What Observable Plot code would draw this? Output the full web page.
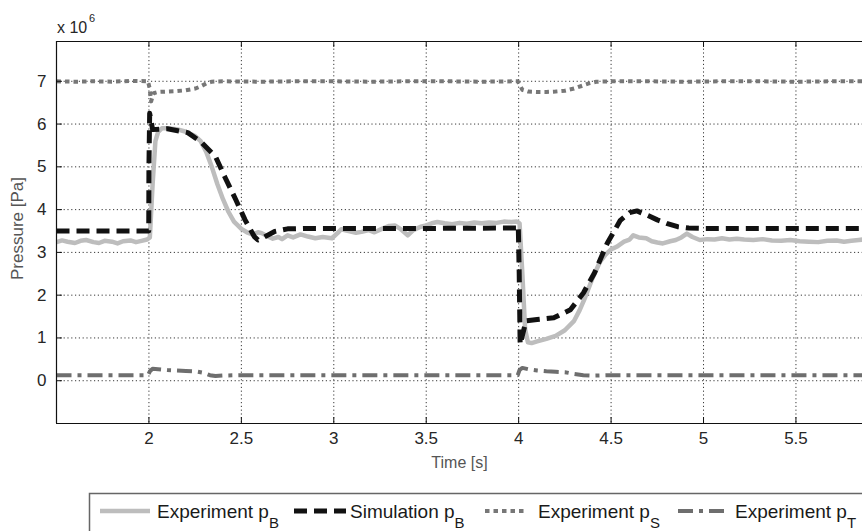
<!DOCTYPE html>
<html><head><meta charset="utf-8">
<script src="https://cdn.jsdelivr.net/npm/d3@7"></script>
<script src="https://cdn.jsdelivr.net/npm/@observablehq/plot@0.6"></script>
<style>
html,body{margin:0;padding:0;background:#fff;overflow:hidden;}
#wrap{position:relative;width:862px;height:531px;font-family:"Liberation Sans",Arial,sans-serif;}
#chart{position:absolute;left:0;top:0;}
#over{position:absolute;left:0;top:0;pointer-events:none;}
</style></head>
<body><div id="wrap"><div id="chart"></div></div>
<script>
// ---- data ----
const xTicks = [2, 2.5, 3, 3.5, 4, 4.5, 5, 5.5];
const yTicks = [0, 1, 2, 3, 4, 5, 6, 7];
const xDomain = [1.5, 5.86];
const yDomain = [-1, 7.93];
const seriesNames = ["Experiment p", "Simulation p", "Experiment p", "Experiment p"];
const seriesSubs = ["B", "B", "S", "T"];

const expBTime = [1.50,1.53,1.56,1.60,1.63,1.66,1.70,1.73,1.76,1.80,1.83,1.86,1.90,1.93,1.96,1.99,2.005,2.02,2.035,2.05,2.07,2.10,2.15,2.20,2.25,2.28,2.31,2.34,2.37,2.40,2.43,2.46,2.50,2.53,2.56,2.59,2.61,2.64,2.67,2.70,2.72,2.75,2.78,2.82,2.86,2.90,2.94,2.99,3.02,3.04,3.08,3.12,3.15,3.19,3.22,3.26,3.30,3.33,3.36,3.40,3.43,3.47,3.50,3.53,3.56,3.60,3.64,3.68,3.72,3.76,3.80,3.84,3.88,3.92,3.96,3.99,4.005,4.02,4.035,4.05,4.07,4.10,4.15,4.20,4.25,4.30,4.33,4.36,4.40,4.44,4.47,4.50,4.53,4.57,4.60,4.62,4.65,4.69,4.72,4.75,4.78,4.82,4.85,4.88,4.91,4.94,4.98,5.02,5.06,5.10,5.14,5.18,5.22,5.27,5.32,5.37,5.42,5.47,5.52,5.57,5.62,5.67,5.72,5.76,5.80,5.84,5.86];
const expBValue = [3.24,3.28,3.25,3.22,3.27,3.29,3.24,3.22,3.27,3.25,3.21,3.26,3.28,3.24,3.27,3.30,3.35,4.60,5.60,5.82,5.90,5.90,5.88,5.82,5.72,5.60,5.35,5.00,4.60,4.25,3.95,3.72,3.55,3.47,3.42,3.47,3.45,3.38,3.32,3.36,3.31,3.40,3.35,3.42,3.37,3.33,3.36,3.33,3.45,3.54,3.50,3.46,3.48,3.52,3.47,3.55,3.62,3.63,3.55,3.40,3.52,3.60,3.63,3.68,3.71,3.68,3.66,3.69,3.67,3.70,3.68,3.70,3.69,3.72,3.71,3.72,3.68,2.50,1.20,0.90,0.88,0.92,0.98,1.05,1.18,1.40,1.65,1.95,2.40,2.78,2.95,3.07,3.13,3.25,3.30,3.40,3.35,3.33,3.26,3.23,3.21,3.26,3.29,3.35,3.44,3.36,3.29,3.31,3.30,3.33,3.30,3.32,3.30,3.29,3.31,3.28,3.27,3.29,3.26,3.25,3.24,3.27,3.28,3.25,3.27,3.29,3.30];

const simBTime = [1.50,1.999,2.000,2.004,2.02,2.10,2.21,2.28,2.36,2.41,2.47,2.52,2.57,2.59,2.62,2.68,2.75,2.85,3.00,3.50,3.99,3.998,4.003,4.008,4.04,4.10,4.19,4.28,4.35,4.41,4.48,4.55,4.60,4.64,4.70,4.75,4.80,4.86,4.92,5.00,5.50,5.86];
const simBValue = [3.50,3.50,5.00,6.25,5.87,5.89,5.80,5.59,5.24,4.77,4.23,3.76,3.37,3.29,3.35,3.49,3.55,3.56,3.56,3.56,3.57,3.62,2.50,0.85,1.40,1.43,1.47,1.66,2.05,2.52,3.22,3.75,3.93,3.97,3.86,3.76,3.68,3.60,3.57,3.56,3.56,3.56];

const expSTime = [1.50,1.60,1.70,1.80,1.90,1.995,2.003,2.012,2.025,2.05,2.10,2.15,2.20,2.25,2.28,2.31,2.34,2.40,2.60,2.80,3.00,3.20,3.40,3.60,3.80,3.995,4.005,4.02,4.05,4.10,4.15,4.20,4.25,4.30,4.34,4.38,4.42,4.50,4.70,4.90,5.10,5.30,5.50,5.70,5.86];
const expSValue = [7.00,6.99,7.00,6.99,7.01,7.00,6.85,6.53,6.72,6.75,6.76,6.77,6.79,6.83,6.88,6.95,6.99,7.00,6.99,7.00,7.00,6.99,7.00,7.00,6.99,7.00,6.93,6.80,6.76,6.75,6.75,6.76,6.78,6.83,6.89,6.95,6.99,7.00,7.00,6.99,7.00,7.00,6.99,7.00,7.00];

const expTTime = [1.50,1.70,1.90,1.995,2.005,2.02,2.05,2.10,2.15,2.20,2.25,2.30,2.33,2.36,2.40,2.50,2.80,3.10,3.40,3.70,3.995,4.005,4.02,4.05,4.10,4.15,4.20,4.25,4.30,4.35,4.40,4.50,4.80,5.10,5.40,5.70,5.86];
const expTValue = [0.13,0.13,0.13,0.13,0.22,0.28,0.27,0.25,0.24,0.23,0.22,0.18,0.13,0.11,0.12,0.13,0.13,0.13,0.13,0.13,0.13,0.25,0.30,0.27,0.24,0.22,0.21,0.20,0.16,0.13,0.12,0.13,0.13,0.13,0.13,0.13,0.13];

// ---- styles ----
const styles = [
  {stroke: "#bdbdbd", strokeWidth: 4.5, strokeDasharray: null},
  {stroke: "#111", strokeWidth: 5, strokeDasharray: "13,7"},
  {stroke: "#777", strokeWidth: 4, strokeDasharray: "4.5,4"},
  {stroke: "#6e6e6e", strokeWidth: 4, strokeDasharray: "15,6,4,6"}
];
const lineOpts = (s) => ({stroke: s.stroke, strokeWidth: s.strokeWidth, strokeDasharray: s.strokeDasharray, strokeLinecap: "butt", strokeLinejoin: "round"});
const gridStyle = {stroke: "#222", strokeOpacity: 1, strokeWidth: 0.9, strokeDasharray: "1.2,2.6"};
const tickLenY = 6 / 42.8, tickLenX = 6 / 184.9;

const chart = Plot.plot({
  width: 862, height: 490,
  marginLeft: 56, marginRight: 0, marginTop: 41, marginBottom: 67,
  style: {fontFamily: "Liberation Sans, Arial, sans-serif", fontSize: "17px", color: "#262626", background: "transparent", overflow: "visible"},
  x: {domain: xDomain},
  y: {domain: yDomain},
  marks: [
    Plot.gridX(xTicks, gridStyle),
    Plot.gridY(yTicks, gridStyle),
    Plot.axisX(xTicks, {tickSize: 0, tickPadding: 8, label: null, fontSize: 17, tickFormat: d => String(d)}),
    Plot.axisY(yTicks, {tickSize: 0, tickPadding: 10, label: null, fontSize: 17, tickFormat: d => String(d)}),
    Plot.line(expBValue, {x: expBTime, y: expBValue, ...lineOpts(styles[0])}),
    Plot.line(simBValue, {x: simBTime, y: simBValue, ...lineOpts(styles[1])}),
    Plot.line(expSValue, {x: expSTime, y: expSValue, ...lineOpts(styles[2])}),
    Plot.line(expTValue, {x: expTTime, y: expTValue, ...lineOpts(styles[3])}),
    // box (right side is cut by the image edge)
    Plot.ruleY([yDomain[0], yDomain[1]], {stroke: "#111", strokeWidth: 1.2}),
    Plot.ruleX([xDomain[0]], {stroke: "#111", strokeWidth: 1.2}),
    // inward ticks
    Plot.ruleX(xTicks, {x: d => d, y1: yDomain[0], y2: yDomain[0] + tickLenY, stroke: "#111"}),
    Plot.ruleX(xTicks, {x: d => d, y1: yDomain[1] - tickLenY, y2: yDomain[1], stroke: "#111"}),
    Plot.ruleY(yTicks, {y: d => d, x1: xDomain[0], x2: xDomain[0] + tickLenX, stroke: "#111"}),
    Plot.text(["Time [s]"], {text: d => d, frameAnchor: "bottom", textAnchor: "middle", dy: 44, fill: "#555", fontSize: 16}),
    Plot.text(["Pressure [Pa]"], {text: d => d, frameAnchor: "left", textAnchor: "middle", rotate: -90, dx: -39, dy: -4, fill: "#555", fontSize: 17})
  ]
});
document.getElementById("chart").appendChild(chart);

// ---- overlay: exponent note + legend ----
const ns = "http://www.w3.org/2000/svg";
const over = document.createElementNS(ns, "svg");
over.setAttribute("id", "over");
over.setAttribute("width", 862); over.setAttribute("height", 531);
over.setAttribute("font-family", "Liberation Sans, Arial, sans-serif");
document.getElementById("wrap").appendChild(over);
function el(tag, attrs, parent) {
  const e = document.createElementNS(ns, tag);
  for (const k in attrs) if (attrs[k] != null) e.setAttribute(k, attrs[k]);
  (parent || over).appendChild(e);
  return e;
}
const ex = el("text", {x: 57, y: 33, "font-size": 16, fill: "#262626"});
ex.textContent = "x 10";
const exSup = el("text", {x: 89, y: 22, "font-size": 11, fill: "#262626"});
exSup.textContent = "6";

el("rect", {x: 89.5, y: 493.5, width: 900, height: 60, fill: "#fff", stroke: "#666", "stroke-width": 1.5});
const legSample = [[100, 150], [294, 346], [485, 527], [678, 724]];
const legText = [157, 350, 538, 735];
const legY = 511, legBase = 518;
styles.forEach((s, i) => {
  el("line", {x1: legSample[i][0], x2: legSample[i][1], y1: legY, y2: legY, stroke: s.stroke, "stroke-width": s.strokeWidth, "stroke-dasharray": s.strokeDasharray});
  const t = el("text", {x: legText[i], y: legBase, "font-size": 19, fill: "#1a1a1a"});
  t.textContent = seriesNames[i];
  const sub = el("tspan", {dy: 10, "font-size": 15}, t);
  sub.textContent = seriesSubs[i];
});
</script>
</body></html>
